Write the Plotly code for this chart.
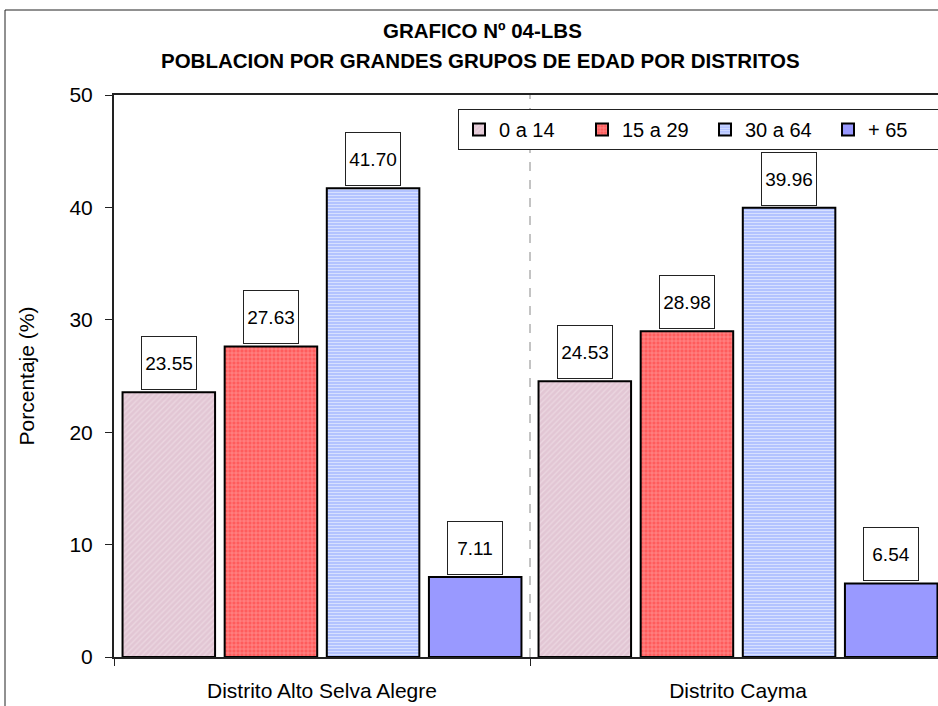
import plotly.graph_objects as go

districts = ["Distrito Alto Selva Alegre", "Distrito Cayma"]
groups = ["0 a 14", "15 a 29", "30 a 64", "+ 65"]
v_0_14 = [23.55, 24.53]
v_15_29 = [27.63, 28.98]
v_30_64 = [41.70, 39.96]
v_65 = [7.11, 6.54]
y_ticks = [0, 10, 20, 30, 40, 50]

series = [v_0_14, v_15_29, v_30_64, v_65]
FONT = "Arial, 'Liberation Sans', sans-serif"

patterns = [
    dict(shape="/", bgcolor="#E2C6D4", fgcolor="#F3E6EC", size=4, solidity=0.35, fillmode="overlay"),
    dict(shape="+", bgcolor="#FF5C5C", fgcolor="#FFD6D6", size=4, solidity=0.3, fillmode="overlay"),
    dict(shape="-", bgcolor="#AFC0FF", fgcolor="#FFFFFF", size=3, solidity=0.4, fillmode="overlay"),
    None,
]
colors = ["#E2C6D4", "#FF5C5C", "#AFC0FF", "#9999FF"]

fig = go.Figure()
for name, vals, col, pat in zip(groups, series, colors, patterns):
    marker = dict(color=col, line=dict(color="black", width=2))
    if pat is not None:
        marker["pattern"] = pat
    fig.add_trace(go.Bar(name=name, x=districts, y=vals, marker=marker))

bargap = 0.018
slot = (1 - bargap) / len(groups)
annotations = []
for i, vals in enumerate(series):
    for j, v in enumerate(vals):
        annotations.append(dict(
            x=j + (i - (len(groups) - 1) / 2) * slot, y=v, xref="x", yref="y",
            text=f"{v:.2f}", showarrow=False, yanchor="bottom", yshift=2,
            width=54, height=52, bgcolor="white", bordercolor="#222",
            borderwidth=1, borderpad=0, font=dict(family=FONT, size=19, color="black"),
        ))

# plot area (page px): left 114, right 938, top 95, bottom 657
PW, PH = 824, 562
annotations.append(dict(text="<b>GRAFICO Nº 04-LBS</b>", xref="paper", yref="paper",
                        x=(482 - 114) / PW, y=(657 - 30) / PH, showarrow=False,
                        xanchor="center", yanchor="middle",
                        font=dict(family=FONT, size=20.5, color="black")))
annotations.append(dict(text="<b>POBLACION POR GRANDES GRUPOS DE EDAD POR DISTRITOS</b>",
                        xref="paper", yref="paper",
                        x=(480 - 114) / PW, y=(657 - 60) / PH, showarrow=False,
                        xanchor="center", yanchor="middle",
                        font=dict(family=FONT, size=20.5, color="black")))

shapes = [
    dict(type="line", xref="x", yref="paper", x0=0.5, x1=0.5, y0=0, y1=1,
         line=dict(color="#888", width=1, dash="dash")),
    dict(type="rect", xref="paper", yref="paper", x0=(5 - 114) / PW, x1=1.3,
         y0=-0.5, y1=(657 - 10) / PH, line=dict(color="#222", width=1),
         fillcolor="rgba(0,0,0,0)", layer="below"),
]

fig.update_layout(
    width=938, height=706,
    margin=dict(l=114, r=0, t=95, b=49, autoexpand=False),
    paper_bgcolor="white", plot_bgcolor="white",
    barmode="group", bargap=bargap, bargroupgap=0.094,
    font=dict(family=FONT, size=21, color="black"),
    showlegend=True,
    legend=dict(orientation="h", x=(458 - 114) / PW, y=(657 - 109) / PH,
                xanchor="left", yanchor="top", bgcolor="white",
                bordercolor="#222", borderwidth=1,
                font=dict(family=FONT, size=20, color="black"),
                entrywidth=78, entrywidthmode="pixels", traceorder="normal"),
    annotations=annotations, shapes=shapes,
)
fig.update_xaxes(type="category", range=[-0.5, -0.5 + PW / 416],
                 showline=True, linecolor="#222", linewidth=2, mirror=True,
                 ticks="outside", tickson="boundaries", ticklen=7, tickcolor="#222",
                 ticklabelstandoff=14, showgrid=False,
                 tickfont=dict(family=FONT, size=21, color="black"))
fig.update_yaxes(range=[0, 50], tickvals=y_ticks, showline=True, linecolor="#222",
                 linewidth=2, mirror=True, ticks="outside", ticklen=7, tickcolor="#222",
                 ticklabelstandoff=8, showgrid=False, zeroline=False,
                 tickfont=dict(family=FONT, size=21, color="black"),
                 title=dict(text="Porcentaje (%)", standoff=29,
                            font=dict(family=FONT, size=21, color="black")))

fig.write_html(
    "out.html",
    config={"displayModeBar": False},
    post_script="document.body.style.margin='0';document.body.style.overflow='hidden';",
)
